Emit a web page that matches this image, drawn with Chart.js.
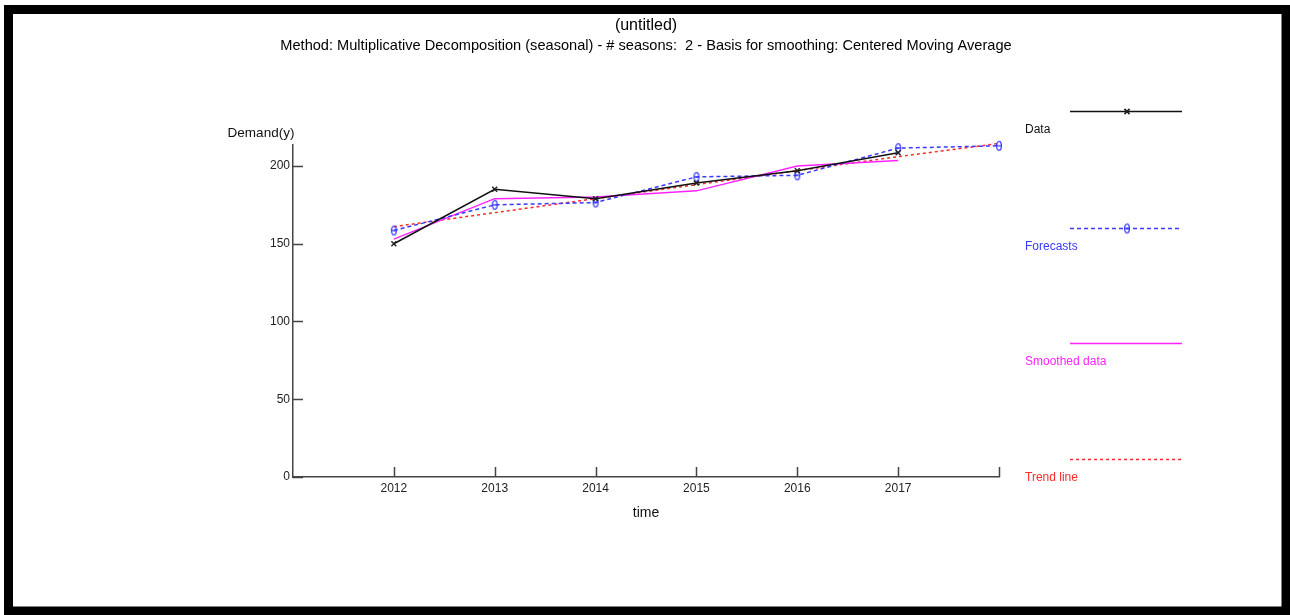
<!DOCTYPE html>
<html>
<head>
<meta charset="utf-8">
<title>Demand decomposition</title>
<script src="https://cdn.jsdelivr.net/npm/chart.js@4.4.1/dist/chart.umd.min.js"></script>
<style>
    html, body { margin: 0; padding: 0; background: #fff; }
    #wrap { position: relative; width: 1290px; height: 615px; }
</style>
</head>
<body>
<div id="wrap"><canvas id="decompChart"></canvas></div>
<script>
// ==================== DATOS ====================
const years = [2012, 2013, 2014, 2015, 2016, 2017, 2018];
const demand = [150, 185, 179, 189, 197, 208.5];
const forecasts = [158.5, 175, 176.5, 193, 194, 211.5, 213];
const smoothed = [153, 179, 180, 184, 200, 203.5];
const trend = [161, 170, 179, 188, 197, 206, 214.5];
const yTicks = [0, 50, 100, 150, 200];
const xTickLabels = [2012, 2013, 2014, 2015, 2016, 2017];
const xTickMarks = [2012, 2013, 2014, 2015, 2016, 2017, 2018];

const TITLE = '(untitled)';
const SUBTITLE = 'Method: Multiplicative Decomposition (seasonal) - # seasons:  2 - Basis for smoothing: Centered Moving Average';

const FONT = "'Liberation Sans', Arial, sans-serif";

// ==================== UTILIDADES ====================
function toPoints(values) {
    return values.map((v, i) => ({ x: years[i], y: v }));
}

// small "θ" style marker used by the forecasts series
function makeThetaMarker(color) {
    const c = document.createElement('canvas');
    c.width = 8;
    c.height = 12;
    const ctx = c.getContext('2d');
    ctx.strokeStyle = color;
    ctx.lineWidth = 1.3;
    ctx.beginPath();
    ctx.ellipse(4, 6, 2.4, 4.4, 0, 0, Math.PI * 2);
    ctx.stroke();
    ctx.beginPath();
    ctx.moveTo(1.6, 6);
    ctx.lineTo(6.4, 6);
    ctx.stroke();
    return c;
}

const thetaMarker = makeThetaMarker('#3a3aff');

// ==================== PLUGIN: marco, títulos, ticks internos, leyenda ====================
const decorPlugin = {
    id: 'decor',
    afterDraw(chart) {
        const ctx = chart.ctx;
        const x = chart.scales.x;
        const y = chart.scales.y;
        const midX = (x.left + x.right) / 2;
        ctx.save();

        // black frame
        ctx.strokeStyle = '#000';
        ctx.lineWidth = 9;
        ctx.strokeRect(8.5, 9.5, 1277.5, 601.5);

        // titles, centred over the plot
        ctx.fillStyle = '#000';
        ctx.textAlign = 'center';
        ctx.textBaseline = 'middle';
        ctx.font = '16px ' + FONT;
        ctx.fillText(TITLE, midX, 26);
        ctx.font = '14.6px ' + FONT;
        ctx.fillText(SUBTITLE, midX, 46);

        // inward ticks
        ctx.strokeStyle = '#444';
        ctx.lineWidth = 1.5;
        ctx.beginPath();
        yTicks.forEach(v => {
            const py = Math.round(y.getPixelForValue(v)) + 0.5;
            ctx.moveTo(x.left, py);
            ctx.lineTo(x.left + 10, py);
        });
        xTickMarks.forEach(v => {
            const px = Math.round(x.getPixelForValue(v)) + 0.5;
            ctx.moveTo(px, y.bottom);
            ctx.lineTo(px, y.bottom - 10);
        });
        ctx.stroke();

        // y axis title (horizontal, above the axis)
        ctx.fillStyle = '#111';
        ctx.font = '13.5px ' + FONT;
        ctx.fillText('Demand(y)', 261, 133);

        // legend on the right
        const rows = [111, 228, 343, 459];
        chart.data.datasets.forEach((ds, i) => {
            const ly = rows[i] + 0.5;
            ctx.strokeStyle = ds.borderColor;
            ctx.lineWidth = 1.5;
            ctx.setLineDash(ds.borderDash || []);
            ctx.beginPath();
            ctx.moveTo(1070, ly);
            ctx.lineTo(1182, ly);
            ctx.stroke();
            ctx.setLineDash([]);
            if (ds.pointRadius > 0) {
                ctx.beginPath();
                ctx.strokeStyle = ds.pointBorderColor;
                ctx.lineWidth = ds.pointBorderWidth;
                Chart.helpers.drawPoint(ctx, {
                    pointStyle: ds.pointStyle,
                    radius: ds.pointRadius,
                    borderWidth: ds.pointBorderWidth,
                    rotation: 0
                }, 1127, ly);
                if (typeof ds.pointStyle === 'string') {
                    ctx.stroke();
                }
            }
            ctx.fillStyle = ds.borderColor;
            ctx.font = '12px ' + FONT;
            ctx.textAlign = 'left';
            ctx.fillText(ds.label, 1025, rows[i] + 18.5);
        });

        ctx.restore();
    }
};

// ==================== GRÁFICO ====================
const chart = new Chart(document.getElementById('decompChart').getContext('2d'), {
    type: 'line',
    data: {
        datasets: [
            {
                label: 'Data',
                data: toPoints(demand),
                borderColor: '#111',
                borderWidth: 1.5,
                pointStyle: 'crossRot',
                pointRadius: 3.5,
                pointBorderColor: '#222',
                pointBorderWidth: 1.5,
                tension: 0,
                clip: false
            },
            {
                label: 'Forecasts',
                data: toPoints(forecasts),
                borderColor: '#3a3aff',
                borderWidth: 1.5,
                borderDash: [4, 3],
                pointStyle: thetaMarker,
                pointRadius: 4,
                pointBorderColor: '#3a3aff',
                pointBorderWidth: 1.3,
                tension: 0,
                clip: false
            },
            {
                label: 'Smoothed data',
                data: toPoints(smoothed),
                borderColor: '#ff22ff',
                borderWidth: 1.5,
                pointRadius: 0,
                tension: 0,
                clip: false
            },
            {
                label: 'Trend line',
                data: toPoints(trend),
                borderColor: '#ff2a2a',
                borderWidth: 1.5,
                borderDash: [3, 3],
                pointRadius: 0,
                tension: 0,
                clip: false
            }
        ]
    },
    options: {
        responsive: true,
        maintainAspectRatio: false,
        animation: false,
        layout: {
            padding: { left: 248, right: 291, top: 145, bottom: 88 }
        },
        plugins: {
            legend: { display: false },
            tooltip: { enabled: false },
            title: { display: false }
        },
        scales: {
            x: {
                type: 'linear',
                min: 2011,
                max: 2018,
                afterBuildTicks: scale => {
                    scale.ticks = xTickMarks.map(v => ({ value: v }));
                },
                afterFit: scale => { scale.height = 50; },
                ticks: {
                    callback: v => xTickLabels.includes(v) ? String(v) : '',
                    color: '#222',
                    font: { family: FONT, size: 12 },
                    padding: 4,
                    maxRotation: 0,
                    autoSkip: false
                },
                grid: { display: false, drawTicks: false },
                border: { display: true, color: '#444', width: 1.5 },
                title: {
                    display: true,
                    text: 'time',
                    color: '#111',
                    font: { family: FONT, size: 14 },
                    padding: { top: 0, bottom: 5.6 }
                }
            },
            y: {
                min: 0,
                max: 213.5,
                afterBuildTicks: scale => {
                    scale.ticks = yTicks.map(v => ({ value: v }));
                },
                afterFit: scale => { scale.width = 45; },
                ticks: {
                    color: '#222',
                    font: { family: FONT, size: 12 },
                    padding: 3
                },
                grid: { display: false, drawTicks: false },
                border: { display: true, color: '#444', width: 1.5 }
            }
        }
    },
    plugins: [decorPlugin]
});
</script>
</body>
</html>
